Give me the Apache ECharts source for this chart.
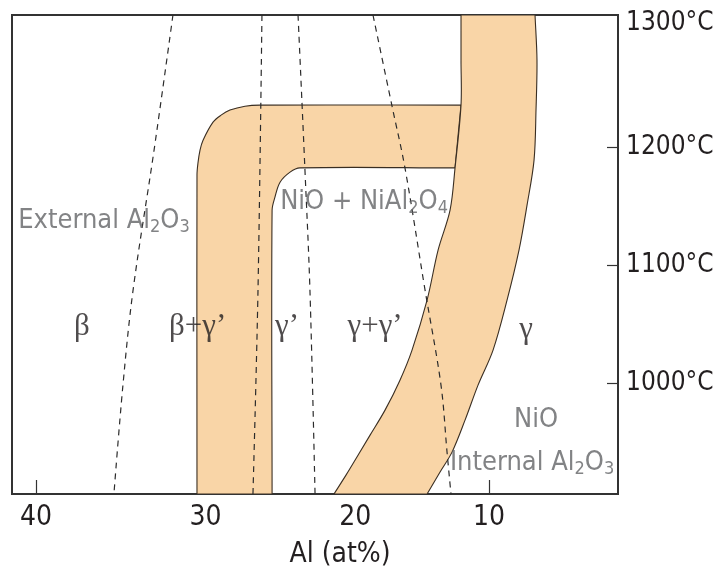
<!DOCTYPE html>
<html>
<head>
<meta charset="utf-8">
<script src="https://cdn.jsdelivr.net/npm/echarts@6/dist/echarts.min.js"></script>
<style>
  html, body { margin: 0; padding: 0; background: #ffffff; }
  #chart { width: 715px; height: 575px; }
</style>
</head>
<body>
<div id="chart"></div>
<script>
// ---- axis ticks ----
const alTicks = [40, 30, 20, 10];          // Al content, at%
const tempTicks = [1000, 1100, 1200, 1300]; // temperature, °C
const tempTickMarks = [1000, 1100, 1200];

// ---- inverted-L oxide band (Al at%, °C) ----
// outer edge: up the Al-rich side, round the corner, along the top
const cornerOuterAl = [30.54, 30.54, 30.48, 30.35, 30.16, 29.53, 29.02, 28.45, 27.48, 26.50, 12.18];
const cornerOuterT  = [906, 1176.3, 1186.4, 1197.5, 1205.9, 1221.2, 1227.1, 1231.4, 1234.7, 1235.6, 1235.6];
// inner edge: along the underside, round the corner, down to the axis
const cornerInnerAl = [12.64, 23.83, 24.50, 25.17, 25.51, 25.70, 25.70];
const cornerInnerT  = [1182.4, 1182.4, 1178.8, 1170.3, 1157.6, 1146.6, 906];

// ---- curved oxide band towards internal oxidation ----
const curvedBandLeftAl  = [12.18, 12.18, 12.18, 12.64, 13.02, 13.93, 14.76, 15.88, 16.77, 17.86, 18.94, 19.80, 20.65, 21.49];
const curvedBandLeftT   = [1312, 1273.7, 1235.6, 1182.2, 1146.6, 1112.7, 1070.3, 1028.0, 1002.5, 977.1, 955.9, 938.9, 922.0, 906];
const curvedBandRightAl = [6.31, 6.15, 6.23, 6.39, 6.96, 7.61, 8.57, 9.68, 10.86, 11.87, 12.87, 13.78, 14.76];
const curvedBandRightT  = [1312, 1273.7, 1231.4, 1189.0, 1150.8, 1112.7, 1070.3, 1028.0, 998.3, 968.6, 941.5, 924.6, 906];

// ---- phase boundaries (dashed) ----
const betaBoundaryAl = [32.03, 33.18, 34.44, 35.04, 35.57];
const betaBoundaryT  = [1312, 1197.5, 1078.8, 998.3, 906];
const betaGpBoundaryAl = [26.37, 26.63, 26.96];
const betaGpBoundaryT  = [1312, 1078.8, 906];
const gpBoundaryAl = [23.96, 23.49, 23.15, 22.80];
const gpBoundaryT  = [1312, 1180.5, 1078.8, 906];
const gammaBoundaryAl = [18.73, 17.35, 16.40, 14.91, 13.71, 13.25, 12.95];
const gammaBoundaryT  = [1312, 1234.7, 1182.2, 1078.8, 998.3, 941.5, 906];

// ---- region labels ----
const phaseLabels = ['β', 'β+γ’', 'γ’', 'γ+γ’', 'γ'];
const phaseLabelAl = [37.42, 30.5, 24.70, 18.58, 7.04];
const phaseLabelT  = [1047.5, 1047.5, 1047.5, 1047.5, 1044.9];

const oxideLabels = ['External Al{s|2}O{s|3}', 'NiO + NiAl{s|2}O{s|4}', 'NiO', 'Internal Al{s|2}O{s|3}'];
const oxideLabelAl = [36.15, 19.37, 6.23, 6.55];
const oxideLabelT  = [1137.3, 1153.4, 968.6, 932.2];

// The composition axis is drawn on a log scale of (offset − Al),
// which widens the Al-rich side of the diagram.
const AXIS_OFFSET = 110;
const toAxis = al => AXIS_OFFSET - al;

const X_MIN = toAxis(41.31), X_MAX = toAxis(-0.69);
const Y_MIN = 906, Y_MAX = 1312;

const SANS = "'Liberation Sans Narrow', 'Arial Narrow', 'DejaVu Sans Condensed', 'Liberation Sans', sans-serif";
const SERIF = "'Liberation Serif', 'DejaVu Serif', serif";
const BAND_FILL = '#f9d5a7';
const BAND_EDGE = '#3a2e22';
const INK = '#231f20';
const GREY_TEXT = '#636466';

// Smooth cubic path through pixel points (tangent-limited, no overshoot).
function smoothRun(pts) {
  let d = '';
  const unit = (a, b) => {
    const dx = b[0] - a[0], dy = b[1] - a[1];
    const l = Math.hypot(dx, dy) || 1;
    return [dx / l, dy / l];
  };
  for (let i = 0; i < pts.length - 1; i++) {
    const p0 = pts[i - 1] || pts[i], p1 = pts[i], p2 = pts[i + 1], p3 = pts[i + 2] || pts[i + 1];
    const len = Math.hypot(p2[0] - p1[0], p2[1] - p1[1]);
    const t1 = unit(p0, p2), t2 = unit(p1, p3);
    const c1 = [p1[0] + t1[0] * len / 3, p1[1] + t1[1] * len / 3];
    const c2 = [p2[0] - t2[0] * len / 3, p2[1] - t2[1] * len / 3];
    d += ' C' + c1[0].toFixed(2) + ' ' + c1[1].toFixed(2) + ' ' + c2[0].toFixed(2) + ' ' + c2[1].toFixed(2) + ' ' + p2[0].toFixed(2) + ' ' + p2[1].toFixed(2);
  }
  return d;
}

// A band outline made of smooth edge runs joined by straight segments.
function bandSeries(name, runs, z) {
  return {
    type: 'custom',
    name: name,
    coordinateSystem: 'cartesian2d',
    clip: true,
    z: z,
    silent: true,
    data: [[toAxis(20), 1000]],
    renderItem: function (params, api) {
      let d = '';
      runs.forEach((run, k) => {
        const pts = run.al.map((a, i) => api.coord([toAxis(a), run.t[i]]));
        d += (k === 0 ? 'M' : ' L') + pts[0][0].toFixed(2) + ' ' + pts[0][1].toFixed(2);
        d += smoothRun(pts);
      });
      d += ' Z';
      return {
        type: 'path',
        shape: { pathData: d },
        style: { fill: BAND_FILL, stroke: BAND_EDGE, lineWidth: 1.1 }
      };
    }
  };
}

function boundarySeries(name, al, t) {
  return {
    type: 'line',
    name: name,
    data: al.map((a, i) => [toAxis(a), t[i]]),
    smooth: 0.35,
    symbol: 'none',
    silent: true,
    z: 5,
    lineStyle: { color: '#2b2b2b', width: 1.2, type: [6, 5] }
  };
}

const chart = echarts.init(document.getElementById('chart'), null, { renderer: 'canvas' });

chart.setOption({
  animation: false,
  backgroundColor: '#ffffff',
  grid: {
    left: 12, right: 97, top: 15, bottom: 81,
    containLabel: false,
    outerBoundsMode: 'none',
    show: true, borderColor: '#333333', borderWidth: 2, backgroundColor: 'transparent'
  },
  xAxis: {
    type: 'log',
    logBase: 10,
    min: X_MIN,
    max: X_MAX,
    name: 'Al (at%)',
    nameLocation: 'middle',
    nameGap: 47,
    nameTextStyle: { fontFamily: SANS, fontSize: 28, color: INK, padding: [0, 0, 0, 50] },
    axisLine: { show: true, lineStyle: { color: '#333333', width: 2 } },
    axisTick: { show: true, inside: true, length: 14, lineStyle: { color: '#333333', width: 1.2 }, customValues: alTicks.map(toAxis) },
    axisLabel: {
      show: true, fontFamily: SANS, fontSize: 28, color: INK, margin: 10,
      customValues: alTicks.map(toAxis),
      formatter: v => String(Math.round(AXIS_OFFSET - v))
    },
    splitLine: { show: false },
    minorTick: { show: false }
  },
  yAxis: {
    type: 'value',
    position: 'right',
    min: Y_MIN,
    max: Y_MAX,
    axisLine: { show: true, lineStyle: { color: '#333333', width: 2 } },
    axisTick: { show: true, inside: true, length: 11, lineStyle: { color: '#333333', width: 1.2 }, customValues: tempTickMarks },
    axisLabel: {
      show: true, fontFamily: SANS, fontSize: 26, color: INK, margin: 8,
      customValues: tempTicks,
      formatter: v => v >= 1300 ? '{top|' + v + '°C}' : v + '°C',
      rich: { top: { fontFamily: SANS, fontSize: 26, color: INK, padding: [0, 0, 12, 0] } }
    },
    splitLine: { show: false }
  },
  series: [
    bandSeries('corner band', [
      { al: cornerOuterAl, t: cornerOuterT },
      { al: cornerInnerAl, t: cornerInnerT }
    ], 2),
    bandSeries('curved band', [
      { al: curvedBandLeftAl, t: curvedBandLeftT },
      { al: curvedBandRightAl.slice().reverse(), t: curvedBandRightT.slice().reverse() }
    ], 3),
    boundarySeries('β boundary', betaBoundaryAl, betaBoundaryT),
    boundarySeries('β+γ’ boundary', betaGpBoundaryAl, betaGpBoundaryT),
    boundarySeries('γ’ boundary', gpBoundaryAl, gpBoundaryT),
    boundarySeries('γ boundary', gammaBoundaryAl, gammaBoundaryT),
    {
      type: 'scatter',
      name: 'phases',
      symbolSize: 0,
      silent: true,
      z: 10,
      data: phaseLabels.map((s, i) => ({ value: [toAxis(phaseLabelAl[i]), phaseLabelT[i]], name: s })),
      label: {
        show: true, position: 'inside', formatter: p => p.name,
        fontFamily: SERIF, fontSize: 31, color: INK
      }
    },
    {
      type: 'scatter',
      name: 'oxides',
      symbolSize: 0,
      silent: true,
      z: 10,
      data: oxideLabels.map((s, i) => ({ value: [toAxis(oxideLabelAl[i]), oxideLabelT[i]], name: s })),
      label: {
        show: true, position: 'inside', formatter: p => p.name,
        fontFamily: SANS, fontSize: 27, lineHeight: 30, color: GREY_TEXT,
        rich: {
          s: { fontFamily: SANS, fontSize: 18, lineHeight: 20, verticalAlign: 'bottom', color: GREY_TEXT }
        }
      }
    }
  ]
});
</script>
</body>
</html>
